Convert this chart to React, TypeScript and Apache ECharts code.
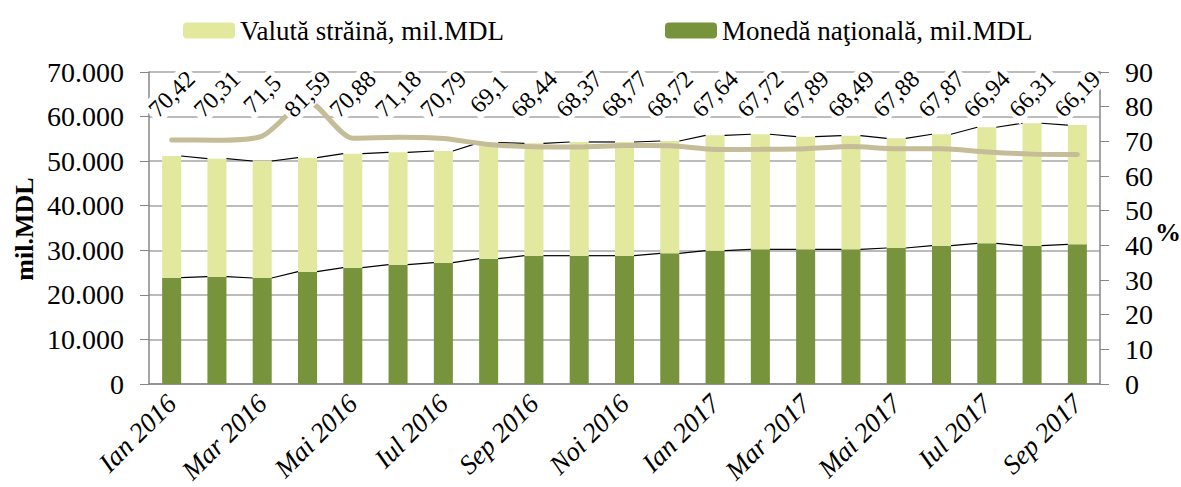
import React, { useEffect, useRef } from "react";
import * as echarts from "echarts";

const categories = [
  "Ian 2016", "Feb 2016", "Mar 2016", "Apr 2016", "Mai 2016", "Iun 2016", "Iul 2016",
  "Aug 2016", "Sep 2016", "Oct 2016", "Noi 2016", "Dec 2016", "Ian 2017", "Feb 2017",
  "Mar 2017", "Apr 2017", "Mai 2017", "Iun 2017", "Iul 2017", "Aug 2017", "Sep 2017",
];
const national = [
  23850, 24080, 23780, 25200, 26100, 26780, 27220, 28120, 28790, 28790, 28790,
  29310, 29910, 30210, 30210, 30210, 30510, 31030, 31560, 31030, 31340,
];
const foreign = [
  27310, 26470, 26250, 25580, 25580, 25200, 25060, 26030, 25210, 25510, 25510,
  25210, 25890, 25820, 25280, 25500, 24610, 25000, 26040, 27470, 26760,
];
const percent = [
  70.42, 70.31, 71.5, 81.59, 70.88, 71.18, 70.79, 69.1, 68.44, 68.37, 68.77,
  68.72, 67.64, 67.72, 67.89, 68.49, 67.88, 67.87, 66.94, 66.31, 66.19,
];
const leftTicks = { min: 0, max: 70000, interval: 10000 };
const rightTicks = { min: 0, max: 90, interval: 10 };

const FONT = "Liberation Serif, Times New Roman, serif";
const BAR_RATIO = 0.42;

export default function App() {
  const ref = useRef<HTMLDivElement>(null);
  useEffect(() => {
    if (!ref.current) return;
    const chart = echarts.init(ref.current, null, { renderer: "svg" });
    const totals = national.map((v, i) => v + foreign[i]);
    const connData = categories.slice(0, -1).map((_, i) => [
      i, totals[i], totals[i + 1], national[i], national[i + 1],
    ]);
    const fmtThousands = (v: number) =>
      String(v).replace(/\B(?=(\d{3})+(?!\d))/g, ".");

    chart.setOption({
      animation: false,
      textStyle: { fontFamily: FONT },
      grid: {
        left: 149, right: 81, top: 72, bottom: 103,
        containLabel: false, outerBoundsMode: "none",
      },
      legend: [
        {
          left: 178, top: 12, itemWidth: 52, itemHeight: 16,
          data: ["Valută străină, mil.MDL"],
          textStyle: { fontFamily: FONT, fontSize: 27, color: "#000" },
        },
        {
          left: 660, top: 12, itemWidth: 52, itemHeight: 16,
          data: ["Monedă naţională, mil.MDL"],
          textStyle: { fontFamily: FONT, fontSize: 27, color: "#000" },
        },
      ],
      xAxis: [
        {
          type: "category",
          data: categories,
          boundaryGap: true,
          axisLine: { lineStyle: { color: "#868686", width: 1.5 } },
          axisTick: { interval: 0, length: 9, lineStyle: { color: "#868686" } },
          axisLabel: {
            interval: 1, rotate: 45, margin: 15, fontSize: 27, fontStyle: "italic",
            color: "#000", fontFamily: FONT,
          },
        },
        {
          // carries the rotated percentage labels of the line series
          type: "category",
          data: categories,
          position: "top",
          boundaryGap: true,
          z: 10,
          axisLine: { show: false },
          axisTick: { show: false },
          splitLine: { show: false },
          axisLabel: {
            interval: 0,
            rotate: 45,
            margin: -22,
            align: "center",
            verticalAlign: "middle",
            fontSize: 24,
            fontFamily: FONT,
            color: "#000",
            backgroundColor: "#fff",
            padding: [1, 3],
            formatter: (_: any, idx: number) => String(percent[idx]).replace(".", ","),
          },
        },
      ],
      yAxis: [
        {
          type: "value", ...leftTicks,
          axisLine: { show: true, lineStyle: { color: "#868686", width: 1.5 } },
          axisTick: { show: true, length: 9, lineStyle: { color: "#868686" } },
          splitLine: { lineStyle: { color: "#a6a6a6", width: 1.5 } },
          axisLabel: {
            margin: 25, fontSize: 28, color: "#000", fontFamily: FONT,
            formatter: (v: number) => fmtThousands(v),
          },
        },
        {
          type: "value", ...rightTicks,
          axisLine: { show: true, lineStyle: { color: "#868686", width: 1.5 } },
          axisTick: { show: true, length: 9, lineStyle: { color: "#868686" } },
          splitLine: { show: false },
          axisLabel: { margin: 25, fontSize: 28, color: "#000", fontFamily: FONT },
        },
      ],
      series: [
        {
          name: "Monedă naţională, mil.MDL",
          type: "bar", stack: "total", barWidth: BAR_RATIO * 100 + "%",
          itemStyle: { color: "#77933c" },
          data: national, z: 2,
        },
        {
          name: "Valută străină, mil.MDL",
          type: "bar", stack: "total", barWidth: BAR_RATIO * 100 + "%",
          itemStyle: { color: "#e2e89e" },
          data: foreign, z: 2,
        },
        {
          type: "custom",
          silent: true,
          z: 3,
          clip: false,
          encode: { x: 0, y: [1, 2, 3, 4] },
          data: connData,
          renderItem: (params: any, api: any) => {
            const i = api.value(0);
            const hw = (api.size([1, 0])[0] * BAR_RATIO) / 2;
            const a1 = api.coord([i, api.value(1)]);
            const a2 = api.coord([i + 1, api.value(2)]);
            const b1 = api.coord([i, api.value(3)]);
            const b2 = api.coord([i + 1, api.value(4)]);
            const st = { stroke: "#000", lineWidth: 1.2 };
            return {
              type: "group",
              children: [
                { type: "line", shape: { x1: a1[0] + hw, y1: a1[1], x2: a2[0] - hw, y2: a2[1] }, style: st },
                { type: "line", shape: { x1: b1[0] + hw, y1: b1[1], x2: b2[0] - hw, y2: b2[1] }, style: st },
              ],
            };
          },
        },
        {
          name: "pct",
          type: "line",
          yAxisIndex: 1,
          smooth: 0.25,
          symbol: "none",
          z: 5,
          lineStyle: { color: "#c4bd97", width: 5, cap: "round" },
          data: percent,
        },
      ],
      graphic: [
        {
          type: "text", x: 24, y: 229, rotation: Math.PI / 2, z: 10,
          style: {
            text: "mil.MDL", fontFamily: FONT, fontSize: 26, fontWeight: "bold",
            fill: "#000", align: "center", verticalAlign: "middle",
          },
        },
        {
          type: "text", x: 1168, y: 232, z: 10,
          style: {
            text: "%", fontFamily: FONT, fontSize: 26, fontWeight: "bold",
            fill: "#000", align: "center", verticalAlign: "middle",
          },
        },
      ],
    });

    return () => chart.dispose();
  }, []);
  return <div ref={ref} style={{ width: 1181, height: 487, position: "absolute", left: 0, top: 0 }} />;
}
